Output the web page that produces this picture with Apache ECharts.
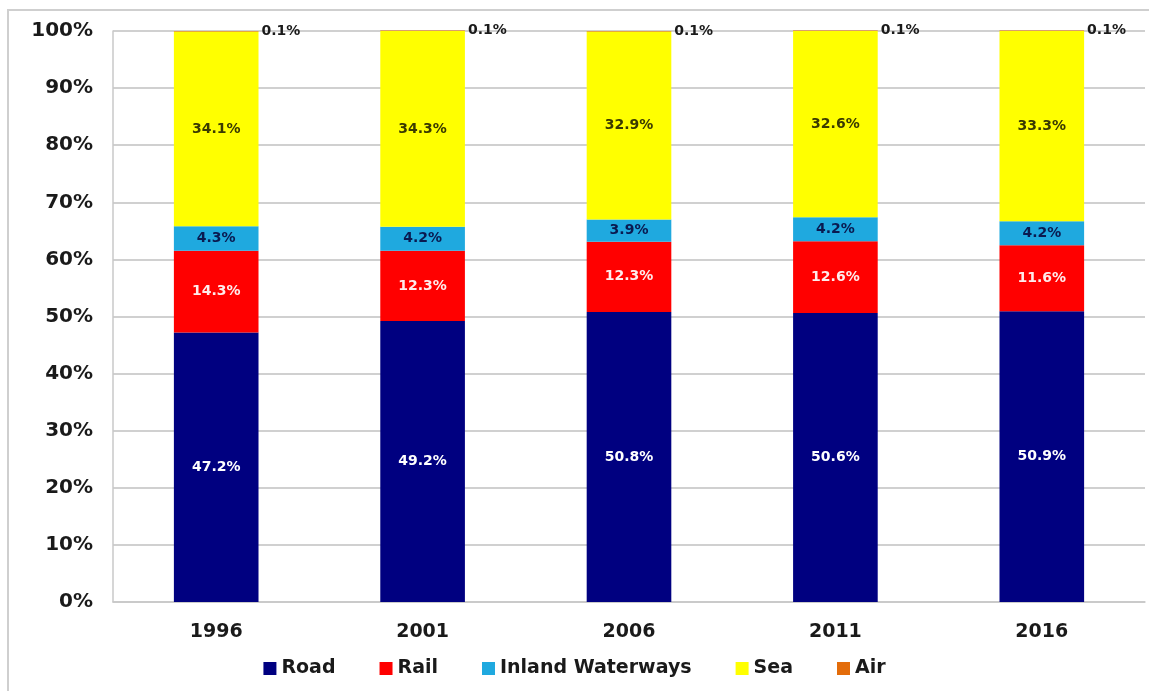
<!DOCTYPE html>
<html>
<head>
<meta charset="utf-8">
<script src="https://cdn.jsdelivr.net/npm/echarts@6/dist/echarts.min.js"></script>
<style>
html,body{margin:0;padding:0;background:#fff;}
#chart{width:1149px;height:691px;}
</style>
</head>
<body>
<div id="chart"></div>
<script>
const categories = ['1996', '2001', '2006', '2011', '2016'];
const road = [47.2, 49.2, 50.8, 50.6, 50.9];
const rail = [14.3, 12.3, 12.3, 12.6, 11.6];
const inland = [4.3, 4.2, 3.9, 4.2, 4.2];
const sea = [34.1, 34.3, 32.9, 32.6, 33.3];
const air = [0.1, 0.1, 0.1, 0.1, 0.1];
const yTicks = [0, 10, 20, 30, 40, 50, 60, 70, 80, 90, 100];

const FONT = '"DejaVu Sans", Verdana, sans-serif';
const chart = echarts.init(document.getElementById('chart'), null, {renderer: 'canvas'});

function mk(name, data, color, labelColor, extra) {
  return Object.assign({
    name: name,
    type: 'bar',
    stack: 'total',
    data: data,
    barWidth: '41%',
    clip: false,
    itemStyle: {color: color},
    label: {
      show: true,
      position: 'inside',
      formatter: p => p.value.toFixed(1) + '%',
      color: labelColor,
      fontFamily: FONT,
      fontWeight: 'bold',
      fontSize: 14
    }
  }, extra || {});
}

chart.setOption({
  animation: false,
  backgroundColor: '#fff',
  graphic: [{
    type: 'rect',
    shape: {x: 8, y: 10, width: 1160, height: 700},
    style: {fill: 'none', stroke: '#cfcfcf', lineWidth: 2},
    silent: true,
    z: -1
  }],
  grid: {left: 113, right: 4, top: 31, bottom: 89},
  legend: {
    bottom: 8,
    left: 'center',
    itemWidth: 13,
    itemHeight: 13,
    itemGap: 44,
    icon: 'rect',
    textStyle: {fontFamily: FONT, fontWeight: 'bold', fontSize: 19, color: '#1a1a1a', padding: [0, 0, 0, 0]},
    data: ['Road', 'Rail', 'Inland Waterways', 'Sea', 'Air']
  },
  xAxis: {
    type: 'category',
    data: categories,
    axisLine: {lineStyle: {color: '#c8c8c8', width: 1.5}},
    axisTick: {show: false},
    axisLabel: {fontFamily: FONT, fontWeight: 'bold', fontSize: 19, color: '#1a1a1a', margin: 21}
  },
  yAxis: {
    type: 'value',
    min: 0,
    max: 100,
    interval: 10,
    axisLine: {show: true, lineStyle: {color: '#c8c8c8', width: 1.5}},
    axisTick: {show: false},
    splitLine: {lineStyle: {color: '#c0c0c0', width: 1.5}},
    axisLabel: {
      fontFamily: FONT, fontWeight: 'bold', fontSize: 20, color: '#1a1a1a', margin: 20,
      formatter: v => yTicks.includes(v) ? v + '%' : ''
    }
  },
  series: [
    mk('Road', road, '#000080', '#ffffff'),
    mk('Rail', rail, '#ff0000', '#ffecec'),
    mk('Inland Waterways', inland, '#1fa9df', '#0a1a50'),
    mk('Sea', sea, '#ffff00', '#3a3a00'),
    mk('Air', air, '#e36c0a', '#1a1a1a', {
      label: {
        show: true,
        position: 'right',
        distance: 3,
        formatter: p => p.value.toFixed(1) + '%',
        color: '#1a1a1a',
        fontFamily: FONT,
        fontWeight: 'bold',
        fontSize: 14
      }
    })
  ]
});
</script>
</body>
</html>
